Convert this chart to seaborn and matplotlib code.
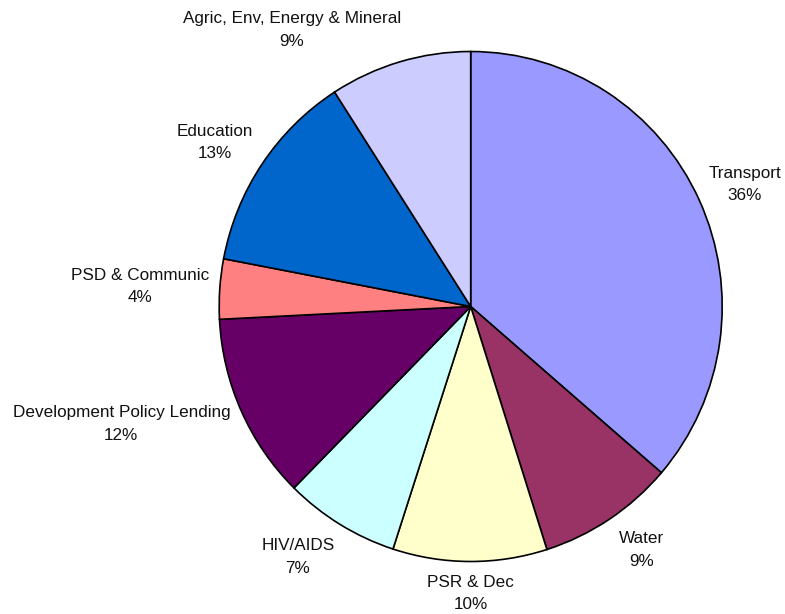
import matplotlib
matplotlib.use("Agg")
import matplotlib.pyplot as plt
import seaborn as sns

# data (share of lending, %)
sectors = ["Transport", "Water", "PSR & Dec", "HIV/AIDS",
           "Development Policy Lending", "PSD & Communic", "Education",
           "Agric, Env, Energy & Mineral"]
shares = [36.3, 8.8, 9.9, 7.4, 11.8, 3.8, 12.9, 9.1]
colors = ["#9999FF", "#993366", "#FFFFCC", "#CCFFFF",
          "#660066", "#FF8080", "#0066CC", "#CCCCFF"]

# label placement (pie-radius units), Excel style
label_xy = [(1.09, 0.48), (0.68, -0.955), (0.0, -1.127), (-0.687, -0.982),
            (-1.389, -0.461), (-1.313, 0.08), (-1.017, 0.643), (-0.711, 1.084)]

sns.set_theme(style="white")
plt.rcParams["font.family"] = ["Liberation Sans", "DejaVu Sans"]

fig = plt.figure(figsize=(7.85, 6.14), dpi=100)
ax = fig.add_axes([0.2792, 0.0855, 0.6408, 0.8306])

pal = sns.color_palette(colors)
ax.pie(shares, colors=pal, startangle=90, counterclock=False,
       wedgeprops=dict(edgecolor="black", linewidth=1.2))
ax.set_aspect("auto")
ax.set_xlim(-1, 1)
ax.set_ylim(-1, 1)

total = sum(shares)
for name, val, (x, y) in zip(sectors, shares, label_xy):
    ax.text(x, y, f"{name}\n{val / total * 100:.0f}%", ha="center", va="center",
            fontsize=12.3, linespacing=1.6, color="#111111")

fig.savefig("out.png", dpi=100, facecolor="white")
